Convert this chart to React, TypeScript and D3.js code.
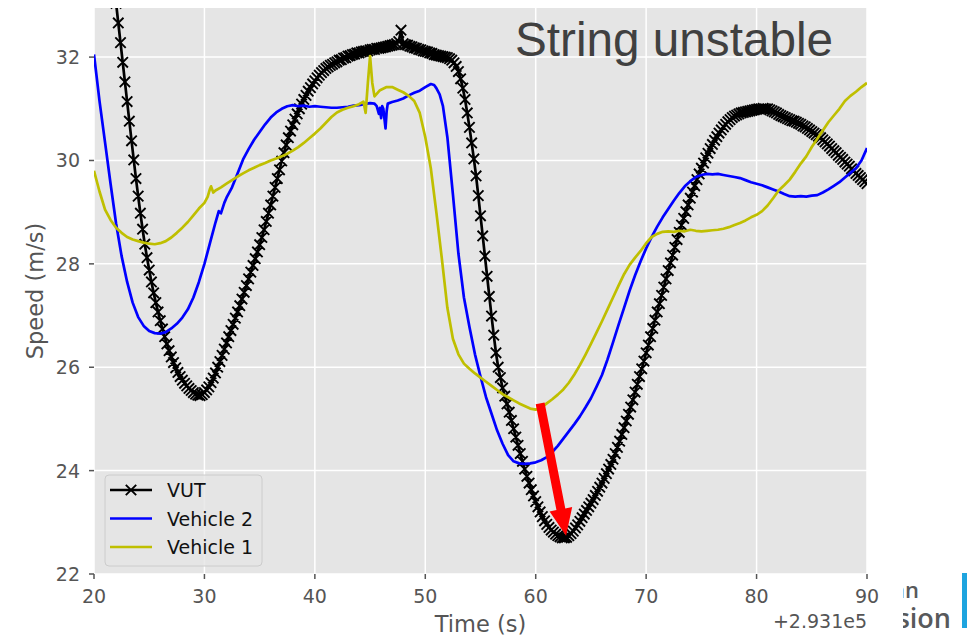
import React from 'react';
import * as d3 from 'd3';

// ---------- data (time in s, offset +2.931e5; speed in m/s) ----------
const xTicks = [20, 30, 40, 50, 60, 70, 80, 90];
const yTicks = [22, 24, 26, 28, 30, 32];
const seriesNames = ['VUT', 'Vehicle 2', 'Vehicle 1'];
const titleText = 'String unstable';
const offsetText = '+2.931e5';

// VUT sampled every 0.2 s starting at 21.8 s
const vutStart = 21.8;
const vutStep = 0.2;
const vutSpeed = [
  33.42, 33.04, 32.66, 32.28, 31.90, 31.52, 31.14, 30.76, 30.38, 30.01,
  29.65, 29.31, 28.98, 28.67, 28.38, 28.12, 27.88, 27.65, 27.44, 27.25,
  27.07, 26.90, 26.74, 26.59, 26.45, 26.32, 26.20, 26.09, 25.99, 25.90,
  25.82, 25.75, 25.69, 25.64, 25.59, 25.55, 25.51, 25.48, 25.46, 25.45,
  25.47, 25.51, 25.56, 25.62, 25.70, 25.79, 25.89, 26.00, 26.11, 26.23,
  26.35, 26.47, 26.59, 26.71, 26.83, 26.95, 27.07, 27.19, 27.32, 27.45,
  27.58, 27.71, 27.84, 27.97, 28.10, 28.23, 28.37, 28.51, 28.66, 28.82,
  28.98, 29.14, 29.31, 29.48, 29.65, 29.82, 29.99, 30.15, 30.30, 30.44,
  30.57, 30.69, 30.80, 30.90, 31.00, 31.09, 31.18, 31.26, 31.34, 31.41,
  31.48, 31.54,
  31.60, 31.65, 31.70, 31.74, 31.78, 31.81, 31.84, 31.86, 31.89, 31.91,
  31.94, 31.95, 31.98, 31.99, 32.02, 32.03, 32.05, 32.06, 32.08, 32.08,
  32.10, 32.11, 32.12, 32.12, 32.14, 32.15, 32.15, 32.17, 32.17, 32.18,
  32.19, 32.20, 32.21, 32.22, 32.23, 32.24, 32.26, 32.30, 32.52, 32.26,
  32.24, 32.23, 32.21, 32.20, 32.18, 32.17, 32.15, 32.14, 32.12, 32.11,
  32.10, 32.08, 32.07, 32.05, 32.04, 32.03, 32.02, 32.01, 32.00, 31.99,
  31.97, 31.94, 31.89, 31.82, 31.72, 31.58, 31.40, 31.18, 30.92, 30.64,
  30.34, 30.03, 29.70, 29.32, 28.93, 28.54, 28.15, 27.76, 27.37, 26.99,
  26.62, 26.28, 26.00, 25.80,
  25.60, 25.44, 25.29, 25.13, 24.97, 24.81, 24.65, 24.49, 24.33, 24.18,
  24.03, 23.89, 23.76, 23.63, 23.51, 23.40, 23.30, 23.20, 23.11, 23.03,
  22.96, 22.90, 22.85, 22.81, 22.77, 22.74, 22.72, 22.70, 22.70,
  22.71, 22.74, 22.78, 22.83, 22.89, 22.95, 23.02, 23.09, 23.16, 23.23,
  23.30, 23.37, 23.44, 23.52, 23.60, 23.68, 23.76, 23.85, 23.94, 24.03,
  24.12, 24.22, 24.33, 24.45, 24.57, 24.70, 24.83, 24.96, 25.09, 25.23,
  25.37, 25.52, 25.67, 25.82, 25.97, 26.12, 26.28, 26.43, 26.59, 26.75,
  26.91, 27.07, 27.23, 27.39, 27.55, 27.71, 27.87, 28.02, 28.17, 28.32,
  28.47, 28.61, 28.75, 28.88, 29.01, 29.14, 29.27, 29.39, 29.51, 29.63,
  29.74, 29.85, 29.95, 30.05, 30.14, 30.23, 30.31, 30.39, 30.46, 30.53,
  30.59, 30.65, 30.70, 30.75, 30.79, 30.83, 30.86, 30.88, 30.90, 30.92,
  30.93, 30.94, 30.95, 30.96, 30.97, 30.98, 30.99, 31.00, 31.00, 31.01,
  31.00, 31.00, 30.98, 30.96, 30.94, 30.92, 30.89, 30.87, 30.85, 30.83,
  30.81, 30.79, 30.77, 30.76, 30.74, 30.72, 30.70, 30.67, 30.65, 30.62,
  30.59, 30.56, 30.53, 30.50, 30.47, 30.44, 30.40, 30.36, 30.32, 30.28,
  30.23, 30.19, 30.15, 30.10, 30.06, 30.02, 29.97, 29.93, 29.89, 29.84,
  29.80, 29.75, 29.71, 29.67, 29.63, 29.59, 29.55,
];

const v2Time = [
  20.0, 20.5, 21.0, 21.5, 22.0, 22.5, 23.0, 23.5, 24.0, 24.5, 25.0, 25.5, 26.0, 26.5, 27.0, 27.5,
  28.0, 28.5, 29.0, 29.5, 30.0, 30.5, 31.0, 31.3, 31.5, 31.8, 32.0, 32.5, 33.0, 33.5, 34.0, 34.5,
  35.0, 35.5, 36.0, 36.5, 37.0, 37.5, 38.0, 38.5, 39.0, 39.5, 40.0, 40.5, 41.0, 41.5, 42.0, 42.5,
  43.0, 43.5, 44.0, 44.5, 45.0, 45.4, 45.6, 45.8, 45.9, 46.0, 46.1, 46.2, 46.4, 46.5, 46.6, 47.0,
  47.5, 48.0, 48.5, 49.0, 49.5, 50.0, 50.5, 50.8, 51.0, 51.3, 51.6, 52.0, 52.5, 53.0, 53.5, 54.0,
  54.5, 55.0, 55.5, 56.0, 56.5, 57.0, 57.5, 58.0, 58.5, 59.0, 59.5, 60.0, 60.5, 61.0, 61.5, 62.0,
  62.5, 63.0, 63.5, 64.0, 64.5, 65.0, 65.5, 66.0, 66.5, 67.0, 67.5, 68.0, 68.5, 69.0, 69.5, 70.0,
  70.5, 71.0, 71.5, 72.0, 72.5, 73.0, 73.5, 74.0, 74.5, 75.0, 75.5, 76.0, 76.5, 77.0, 77.5, 78.0,
  78.5, 79.0, 79.5, 80.0, 80.5, 81.0, 81.5, 82.0, 82.5, 83.0, 83.5, 84.0, 84.5, 85.0, 85.5, 86.0,
  86.5, 87.0, 87.5, 88.0, 88.5, 89.0, 89.5, 90.0,
];
const v2Speed = [
  32.05, 31.15, 30.35, 29.55, 28.78, 28.15, 27.65, 27.25, 26.97, 26.80, 26.70, 26.66, 26.65, 26.68, 26.75, 26.84,
  26.96, 27.12, 27.35, 27.65, 28.00, 28.40, 28.80, 29.02, 28.98, 29.18, 29.28, 29.48, 29.75, 30.02, 30.22, 30.40,
  30.55, 30.70, 30.83, 30.93, 31.00, 31.05, 31.07, 31.05, 31.06, 31.04, 31.05, 31.04, 31.03, 31.02, 31.02, 31.03,
  31.04, 31.06, 31.07, 31.09, 31.11, 31.10, 31.05, 30.90, 31.02, 30.82, 31.05, 31.00, 30.62, 30.95, 31.10, 31.13,
  31.16, 31.20, 31.26, 31.31, 31.35, 31.42, 31.48, 31.46, 31.40, 31.28, 31.05, 30.45, 29.35, 28.20, 27.35, 26.78,
  26.25, 25.82, 25.42, 25.10, 24.78, 24.52, 24.30, 24.18, 24.14, 24.13, 24.14, 24.16, 24.20, 24.26, 24.36, 24.48,
  24.62, 24.76, 24.90, 25.05, 25.22, 25.40, 25.62, 25.85, 26.15, 26.48, 26.82, 27.15, 27.48, 27.78, 28.05, 28.30,
  28.52, 28.72, 28.90, 29.06, 29.22, 29.37, 29.50, 29.60, 29.68, 29.72, 29.74, 29.73, 29.74, 29.72, 29.70, 29.68,
  29.66, 29.62, 29.58, 29.55, 29.52, 29.48, 29.44, 29.40, 29.35, 29.31, 29.30, 29.31, 29.30, 29.32, 29.33, 29.38,
  29.44, 29.51, 29.58, 29.67, 29.76, 29.85, 30.00, 30.24,
];

const v1Time = [
  20.0, 20.5, 21.0, 21.5, 22.0, 22.5, 23.0, 23.5, 24.0, 24.5, 25.0, 25.5, 26.0, 26.5, 27.0, 27.5,
  28.0, 28.5, 29.0, 29.5, 30.0, 30.3, 30.5, 30.6, 30.8, 31.0, 31.5, 32.0, 32.5, 33.0, 33.5, 34.0,
  34.5, 35.0, 35.5, 36.0, 36.5, 37.0, 37.5, 38.0, 38.5, 39.0, 39.5, 40.0, 40.5, 41.0, 41.5, 42.0,
  42.5, 43.0, 43.5, 44.0, 44.4, 44.6, 44.8, 45.0, 45.2, 45.4, 45.9, 46.5, 47.0, 47.5, 48.0, 48.5,
  49.0, 49.5, 50.0, 50.5, 51.0, 51.5, 52.0, 52.5, 53.0, 53.5, 54.0, 54.5, 55.0, 55.5, 56.0, 56.5,
  57.0, 57.5, 58.0, 58.5, 59.0, 59.5, 60.0, 60.5, 61.0, 61.5, 62.0, 62.5, 63.0, 63.5, 64.0, 64.5,
  65.0, 65.5, 66.0, 66.5, 67.0, 67.5, 68.0, 68.5, 69.0, 69.5, 70.0, 70.5, 71.0, 71.5, 72.0, 72.5,
  73.0, 73.5, 74.0, 74.5, 75.0, 75.5, 76.0, 76.5, 77.0, 77.5, 78.0, 78.5, 79.0, 79.5, 80.0, 80.5,
  81.0, 81.5, 82.0, 82.5, 83.0, 83.5, 84.0, 84.5, 85.0, 85.5, 86.0, 86.5, 87.0, 87.5, 88.0, 88.5,
  89.0, 89.5, 90.0,
];
const v1Speed = [
  29.80, 29.40, 29.05, 28.85, 28.70, 28.60, 28.52, 28.47, 28.44, 28.41, 28.39, 28.38, 28.40, 28.44, 28.51, 28.60,
  28.70, 28.81, 28.94, 29.07, 29.18, 29.30, 29.45, 29.50, 29.38, 29.42, 29.48, 29.55, 29.62, 29.69, 29.75, 29.81,
  29.86, 29.91, 29.95, 30.00, 30.04, 30.08, 30.13, 30.19, 30.26, 30.34, 30.43, 30.52, 30.62, 30.73, 30.84, 30.93,
  30.98, 31.02, 31.05, 31.09, 31.14, 30.92, 31.50, 32.02, 31.50, 31.24, 31.36, 31.42, 31.42, 31.37, 31.32, 31.25,
  31.15, 30.92, 30.45, 29.85, 29.00, 28.10, 27.15, 26.55, 26.25, 26.07, 25.97, 25.88, 25.80, 25.72, 25.64, 25.56,
  25.48, 25.42, 25.36, 25.30, 25.25, 25.20, 25.18, 25.22, 25.30, 25.38, 25.47, 25.57, 25.70, 25.86, 26.04, 26.24,
  26.45, 26.67, 26.89, 27.12, 27.35, 27.58, 27.80, 27.98, 28.12, 28.25, 28.40, 28.52, 28.58, 28.62, 28.63, 28.62,
  28.64, 28.63, 28.66, 28.64, 28.63, 28.64, 28.65, 28.66, 28.68, 28.71, 28.75, 28.79, 28.84, 28.90, 28.95, 29.02,
  29.13, 29.27, 29.42, 29.52, 29.63, 29.78, 29.94, 30.08, 30.26, 30.42, 30.58, 30.74, 30.87, 31.00, 31.15, 31.25,
  31.33, 31.42, 31.50,
];

// annotation arrow (from Vehicle 1 minimum to VUT minimum), data coords
const arrowFrom = [60.4, 25.3];
const arrowTo = [62.75, 22.74];

const seriesColors = ['#000000', '#0000ff', '#bfbf00'];

export default function App() {
  const W = 975, H = 636;
  const left = 94, right = 867, top = 8, bottom = 574;
  const x = d3.scaleLinear().domain([20, 90]).range([left, right]);
  const y = d3.scaleLinear().domain([22, 32.95]).range([bottom, top]);

  const vut: [number, number][] = vutSpeed.map((v, i) => [vutStart + i * vutStep, v]);
  const v2: [number, number][] = v2Speed.map((v, i) => [v2Time[i], v]);
  const v1: [number, number][] = v1Speed.map((v, i) => [v1Time[i], v]);
  const line = d3.line<[number, number]>().x(d => x(d[0])).y(d => y(d[1]));

  const ms = 5.2;
  const xMarkers = vut
    .map(([t, v]) => {
      const px = x(t), py = y(v);
      return `M${px - ms},${py - ms}L${px + ms},${py + ms}M${px - ms},${py + ms}L${px + ms},${py - ms}`;
    })
    .join('');

  // arrow polygon in pixel space from data endpoints
  const ax0 = x(arrowFrom[0]), ay0 = y(arrowFrom[1]);
  const ax1 = x(arrowTo[0]), ay1 = y(arrowTo[1]);
  const len = Math.hypot(ax1 - ax0, ay1 - ay0);
  const ux = (ax1 - ax0) / len, uy = (ay1 - ay0) / len;
  const nx = -uy, ny = ux;
  const sw = 9 / 2, hw = 23 / 2, hl = 27;
  const bx = ax1 - ux * hl, by = ay1 - uy * hl;
  const arrowPts = [
    [ax0 + nx * sw, ay0 + ny * sw],
    [bx + nx * sw, by + ny * sw],
    [bx + nx * hw, by + ny * hw],
    [ax1, ay1],
    [bx - nx * hw, by - ny * hw],
    [bx - nx * sw, by - ny * sw],
    [ax0 - nx * sw, ay0 - ny * sw],
  ].map(p => p.join(',')).join(' ');

  const font = 'DejaVu Sans, sans-serif';
  const tickColor = '#555555';

  return (
    <svg width={W} height={H} style={{ position: 'absolute', left: 0, top: 0, background: '#ffffff' }}>
      <defs>
        <clipPath id="plotClip">
          <rect x={left} y={top} width={right - left} height={bottom - top} />
        </clipPath>
        <clipPath id="logoClip">
          <rect x={903} y={560} width={72} height={76} />
        </clipPath>
      </defs>
      <rect x={left} y={top} width={right - left} height={bottom - top} fill="#E5E5E5" />
      {/* grid */}
      {xTicks.map(t => (
        <line key={'gx' + t} x1={x(t)} x2={x(t)} y1={top} y2={bottom} stroke="#ffffff" strokeWidth={1.5} />
      ))}
      {yTicks.map(t => (
        <line key={'gy' + t} x1={left} x2={right} y1={y(t)} y2={y(t)} stroke="#ffffff" strokeWidth={1.5} />
      ))}
      {/* ticks */}
      {xTicks.map(t => (
        <g key={'tx' + t}>
          <line x1={x(t)} x2={x(t)} y1={bottom} y2={bottom + 5} stroke={tickColor} strokeWidth={1.5} />
          <text x={x(t)} y={bottom + 29} textAnchor="middle" fontFamily={font} fontSize={19} fill={tickColor}>{t}</text>
        </g>
      ))}
      {yTicks.map(t => (
        <g key={'ty' + t}>
          <line x1={left - 5} x2={left} y1={y(t)} y2={y(t)} stroke={tickColor} strokeWidth={1.5} />
          <text x={left - 14} y={y(t) + 7} textAnchor="end" fontFamily={font} fontSize={19} fill={tickColor}>{t}</text>
        </g>
      ))}
      <text x={(left + right) / 2} y={632} textAnchor="middle" fontFamily={font} fontSize={22.5} fill={tickColor}>Time (s)</text>
      <text transform={`translate(43,${(top + bottom) / 2}) rotate(-90)`} textAnchor="middle" fontFamily={font} fontSize={22.5} fill={tickColor}>Speed (m/s)</text>
      <text x={right} y={628} textAnchor="end" fontFamily={font} fontSize={19} fill={tickColor}>{offsetText}</text>

      {/* series */}
      <g clipPath="url(#plotClip)">
        <path d={line(vut) || ''} fill="none" stroke={seriesColors[0]} strokeWidth={2.7} strokeLinejoin="round" />
        <path d={xMarkers} fill="none" stroke={seriesColors[0]} strokeWidth={1.9} />
        <path d={line(v2) || ''} fill="none" stroke={seriesColors[1]} strokeWidth={2.7} strokeLinejoin="round" />
        <path d={line(v1) || ''} fill="none" stroke={seriesColors[2]} strokeWidth={2.7} strokeLinejoin="round" />
        <polygon points={arrowPts} fill="#ff0000" />
      </g>

      {/* title */}
      <text x={515} y={56} fontFamily="Liberation Sans, Arial, sans-serif" fontSize={47.7} fill="#404040">{titleText}</text>

      {/* legend */}
      <rect x={105} y={475} width={157} height={91} rx={4} fill="#E5E5E5" fillOpacity={0.8} stroke="#cccccc" strokeWidth={1} />
      {seriesNames.map((name, i) => {
        const ly = 490 + i * 28.5;
        return (
          <g key={name}>
            <line x1={110} x2={152} y1={ly} y2={ly} stroke={seriesColors[i]} strokeWidth={2.7} />
            {i === 0 && (
              <path d={`M${131 - ms},${ly - ms}L${131 + ms},${ly + ms}M${131 - ms},${ly + ms}L${131 + ms},${ly - ms}`} stroke="#000" strokeWidth={1.9} />
            )}
            <text x={167} y={ly + 7} fontFamily={font} fontSize={19} fill="#111111">{name}</text>
          </g>
        );
      })}

      {/* cropped slide logo (European Commission), only the right edge is visible */}
      <g clipPath="url(#logoClip)">
        <text x={919} y={598} textAnchor="end" fontFamily="Open Sans, sans-serif" fontWeight={600} fontSize={22} fill="#58595b">an</text>
        <text x={951} y={628} textAnchor="end" fontFamily="Open Sans, sans-serif" fontWeight={600} fontSize={27} fill="#58595b">ssion</text>
      </g>
      <rect x={962} y={573} width={5} height={55} fill="#1ea4df" />
    </svg>
  );
}
